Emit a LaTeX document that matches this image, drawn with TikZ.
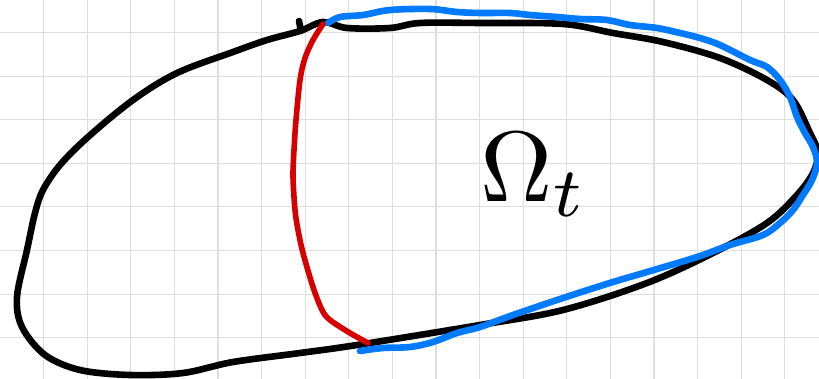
\documentclass[tikz,border=0pt]{standalone}
\usepackage{graphicx}
\usepackage{tikz}
\usetikzlibrary{positioning}
\definecolor{inkblack}{RGB}{0, 0, 0}
\definecolor{inkred}{RGB}{214, 0, 0}
\definecolor{inkblue}{RGB}{0, 122, 255}
\definecolor{gridcolor}{RGB}{222, 222, 222}
\tikzset{
gridline/.style={
  draw=gridcolor,
  line width=1.1pt
},
pen/.style={
  line width=6.6pt,
  line cap=round,
  line join=round
},
boundary/.style={
  pen,
  draw=inkblack
},
cutline/.style={
  pen,
  draw=inkred,
  line width=5.6pt
},
partline/.style={
  pen,
  draw=inkblue
},
domainlabel/.style={
  inner sep=0pt,
  text=inkblack
}
}

\begin{document}
\begin{tikzpicture}[x=1pt, y=-1pt]
        % paper
        \useasboundingbox (0,0) rectangle (819,379);
        \fill[white] (0,0) rectangle (819,379);
        \foreach \i in {1,...,18}
          \draw[gridline] (43.6*\i,0) -- (43.6*\i,379);
        \foreach \j in {0,...,7}
          \draw[gridline] (0,32.5+43.6*\j) -- (819,32.5+43.6*\j);

        % domain boundary
        \draw[boundary] plot[smooth cycle, tension=0.55] coordinates {
          (323,22) (347,28) (390,28) (420,23) (480,23) (563,24) (613,33)
          (663,42) (720,58) (767,80) (793,100) (810,133) (818,153) (813,173)
          (797,195) (767,223) (713,253) (647,283) (563,310) (480,325)
          (357,345) (300,353) (233,362) (183,373) (130,375) (80,370)
          (45,355) (22,327) (17,297) (27,250) (35,213) (43,190) (60,165)
          (88,137) (133,100) (177,73) (233,52) (267,40) (300,31)};
        \draw[boundary] (299,21) -- (301,31);

        % blue part of the boundary
        \draw[partline] plot[smooth, tension=0.55] coordinates {
          (360,351) (383,348) (410,347) (433,342) (457,333) (480,327)
          (513,315) (563,298) (613,282) (647,272) (697,257) (730,245)
          (763,235) (780,223) (793,210) (803,195) (812,180) (817,163)
          (813,147) (805,133) (797,117) (790,97) (780,80) (767,67)
          (750,60) (720,45) (700,38) (680,33) (657,28) (630,25) (607,20)
          (580,19) (557,17) (530,15) (510,13) (480,13) (457,12) (430,9)
          (390,10) (363,15) (340,17) (328,23)};

        % red cut
        \draw[cutline] plot[smooth, tension=0.5] coordinates {
          (323,24) (313,40) (305,58) (300,80) (296,120) (294,150) (293,177)
          (295,210) (298,230) (303,253) (313,287) (322,310) (330,320)
          (350,333) (368,343)};

        % label
        \node[domainlabel] (omega) at (534,175) {\scalebox{10}{$\Omega_t$}};
      \end{tikzpicture}
\end{document}
